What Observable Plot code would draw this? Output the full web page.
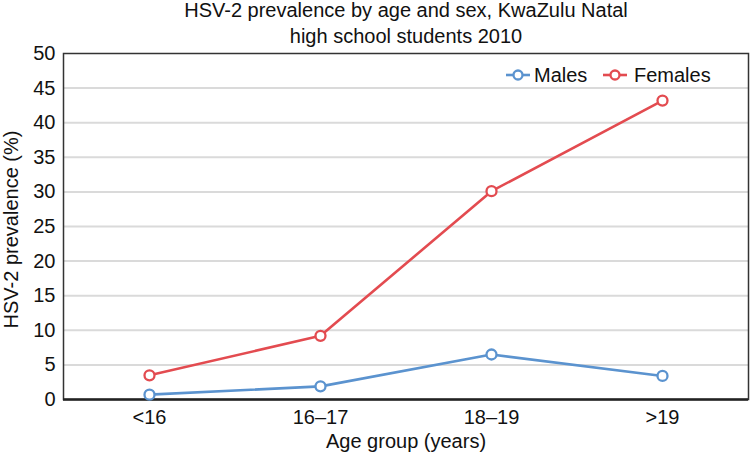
<!DOCTYPE html>
<html>
<head>
<meta charset="utf-8">
<script src="https://cdn.jsdelivr.net/npm/d3@7"></script>
<script src="https://cdn.jsdelivr.net/npm/@observablehq/plot@0.6"></script>
<style>
  html, body { margin: 0; padding: 0; background: #fff; }
  #wrap { position: relative; width: 750px; height: 465px; font-family: "Liberation Sans", Arial, Helvetica, sans-serif; color: #111; }
  .lg { position: absolute; font-size: 20px; line-height: 20px; white-space: nowrap; }
  .sw { position: absolute; }
</style>
</head>
<body>
<div id="wrap"></div>
<script>
const ageGroups = ["<16", "16–17", "18–19", ">19"];
const males = [0.7, 1.9, 6.5, 3.4];
const females = [3.5, 9.2, 30.1, 43.2];
const seriesNames = ["Males", "Females"];
const seriesColors = ["#5b93cf", "#e34b50"];
const yTicks = [0, 5, 10, 15, 20, 25, 30, 35, 40, 45, 50];
const gridTicks = [5, 10, 15, 20, 25, 30, 35, 40, 45];
const titleText = "HSV-2 prevalence by age and sex, KwaZulu Natal\nhigh school students 2010";
const xLabel = "Age group (years)";
const yLabel = "HSV-2 prevalence (%)";

const data = [];
ageGroups.forEach((g, i) => {
  data.push({age: g, sex: "Males", value: males[i]});
  data.push({age: g, sex: "Females", value: females[i]});
});

const chart = Plot.plot({
  width: 750,
  height: 465,
  marginLeft: 63,
  marginRight: 2,
  marginTop: 53,
  marginBottom: 66,
  style: {fontFamily: '"Liberation Sans", Arial, Helvetica, sans-serif', fontSize: "20px", color: "#111", background: "#fff"},
  x: {type: "point", domain: ageGroups, padding: 0.5, label: null},
  y: {domain: [0, 50], label: null},
  color: {domain: seriesNames, range: seriesColors},
  marks: [
    Plot.ruleY(gridTicks, {stroke: "#dadada", strokeWidth: 2}),
    Plot.frame({stroke: "#333", strokeWidth: 1.5}),
    Plot.ruleY([0], {stroke: "#222", strokeWidth: 2.5}),
    Plot.axisY({ticks: yTicks, tickSize: 0, tickPadding: 8, fontSize: 20, label: null}),
    Plot.axisX({tickSize: 0, tickPadding: 10, fontSize: 20, label: null}),
    Plot.line(data, {x: "age", y: "value", stroke: "sex", strokeWidth: 2.6}),
    Plot.dot(data, {x: "age", y: "value", stroke: "sex", fill: "white", r: 5, strokeWidth: 2.3}),
    Plot.text([titleText], {frameAnchor: "top", lineAnchor: "bottom", dy: -11, lineHeight: 1.3, fontSize: 20, text: d => d}),
    Plot.text([xLabel], {frameAnchor: "bottom", lineAnchor: "bottom", dy: 48, fontSize: 20, text: d => d}),
    Plot.text([yLabel], {frameAnchor: "left", textAnchor: "middle", lineAnchor: "bottom", rotate: -90, dx: -46, dy: 3, fontSize: 20, text: d => d})
  ]
});

const wrap = document.getElementById("wrap");
wrap.appendChild(chart);

// Legend
const legendItems = [
  {name: seriesNames[0], color: seriesColors[0], sw: 506, tx: 534},
  {name: seriesNames[1], color: seriesColors[1], sw: 603, tx: 634}
];
legendItems.forEach(it => {
  const s = document.createElementNS("http://www.w3.org/2000/svg", "svg");
  s.setAttribute("width", 24); s.setAttribute("height", 16);
  s.setAttribute("class", "sw");
  s.style.left = it.sw + "px"; s.style.top = "67px";
  s.innerHTML = `<line x1="0" x2="24" y1="8" y2="8" stroke="${it.color}" stroke-width="2.6"/>` +
    `<circle cx="12" cy="8" r="4.5" fill="white" stroke="${it.color}" stroke-width="2.3"/>`;
  wrap.appendChild(s);
  const t = document.createElement("div");
  t.className = "lg";
  t.textContent = it.name;
  t.style.left = it.tx + "px"; t.style.top = "65px";
  wrap.appendChild(t);
});
</script>
</body>
</html>
